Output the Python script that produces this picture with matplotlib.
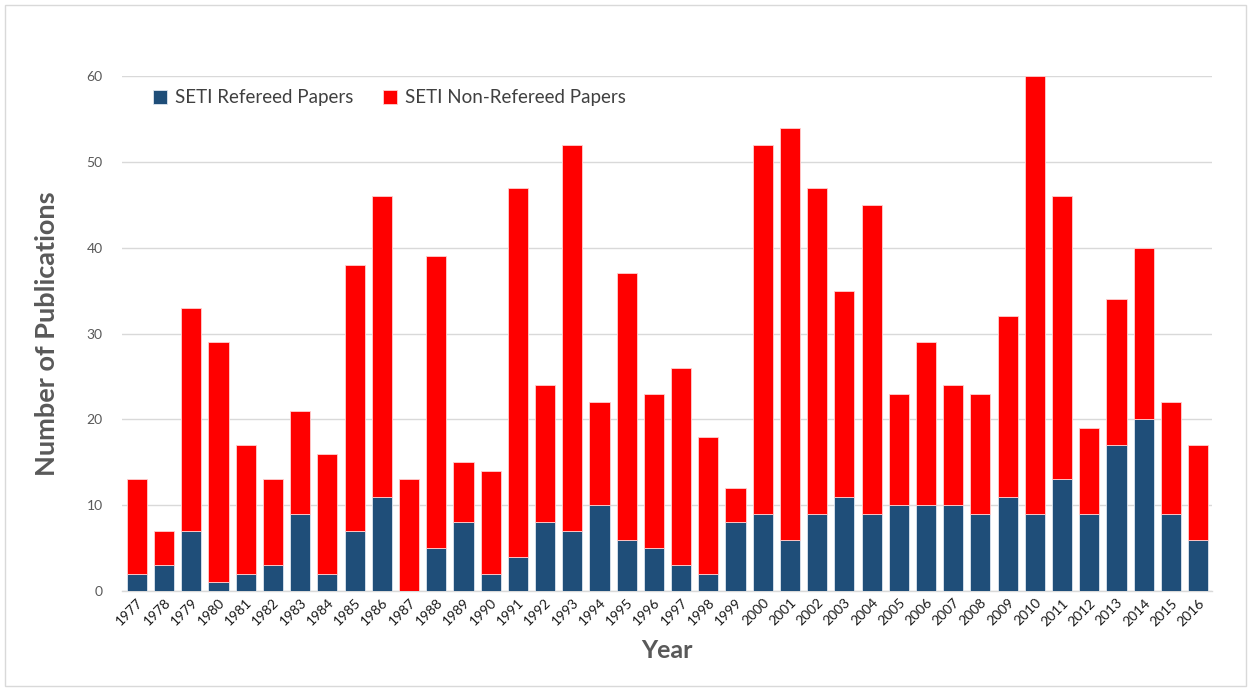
import matplotlib
matplotlib.use('Agg')
import matplotlib.pyplot as plt
import matplotlib.patches as mplpatches
import numpy as np

# data -----------------------------------------------------------------------------------------------------------------

years = [str(y) for y in range(1977, 2017)]
refereed = [2, 3, 7, 1, 2, 3, 9, 2, 7, 11, 0, 5, 8, 2, 4, 8, 7, 10, 6, 5,
            3, 2, 8, 9, 6, 9, 11, 9, 10, 10, 10, 9, 11, 9, 13, 9, 17, 20, 9, 6]
totals = [13, 7, 33, 29, 17, 13, 21, 16, 38, 46, 13, 39, 15, 14, 47, 24, 52, 22, 37, 23,
          26, 18, 12, 52, 54, 47, 35, 45, 23, 29, 24, 23, 32, 60, 46, 19, 34, 40, 22, 17]
nonRefereed = [t - r for t, r in zip(totals, refereed)]

# figure ---------------------------------------------------------------------------------------------------------------

plt.rcParams['font.family'] = ['Lato', 'DejaVu Sans']

figureWidth = 12.51
figureHeight = 6.91
fig = plt.figure(figsize=(figureWidth, figureHeight), dpi=100)

# thin gray frame round the whole picture
fig.patches.append(mplpatches.Rectangle((0.004, 0.007), 0.992, 0.986, transform=fig.transFigure,
                                        fill=False, edgecolor='#d9d9d9', linewidth=1))

panel1 = plt.axes([0.0975, 0.1447, 0.8715, 0.7453])   # left, bottom, width, height

x = np.arange(len(years))
barWidth = 0.74
panel1.bar(x, refereed, width=barWidth, color='#1f4e79', edgecolor='#dde6f0', linewidth=0.6,
           label='SETI Refereed Papers', zorder=3)
panel1.bar(x, nonRefereed, width=barWidth, bottom=refereed, color='#ff0000', edgecolor='#ffd0d0',
           linewidth=0.6, label='SETI Non-Refereed Papers', zorder=3)

panel1.set_xlim(-0.55, len(years) - 0.48)
panel1.set_ylim(0, 60)
panel1.set_yticks(range(0, 61, 10))
panel1.yaxis.grid(True, color='#d9d9d9', linewidth=1, zorder=0)
panel1.set_axisbelow(True)

for side in ['top', 'right', 'left']:
    panel1.spines[side].set_visible(False)
panel1.spines['bottom'].set_color('#d9d9d9')
panel1.spines['bottom'].set_linewidth(1)

panel1.set_xticks(x)
panel1.set_xticklabels(years, rotation=45, ha='right', rotation_mode='anchor', fontsize=10, color='#1a1a1a')
panel1.tick_params(axis='x', length=0, pad=4)
panel1.tick_params(axis='y', length=0, pad=14, labelsize=10, labelcolor='#595959')

panel1.set_xlabel('Year', fontsize=18, fontweight='bold', color='#595959', labelpad=8)
panel1.set_ylabel('Number of Publications', fontsize=19.5, fontweight='bold', color='#595959', labelpad=20)

leg = panel1.legend(loc='upper left', bbox_to_anchor=(0.013, 1.007), ncol=2, frameon=False,
                    fontsize=13.5, handlelength=0.75, handleheight=0.75, handletextpad=0.4,
                    columnspacing=1.6, labelcolor='#404040')

plt.savefig('out.png', dpi=100)
